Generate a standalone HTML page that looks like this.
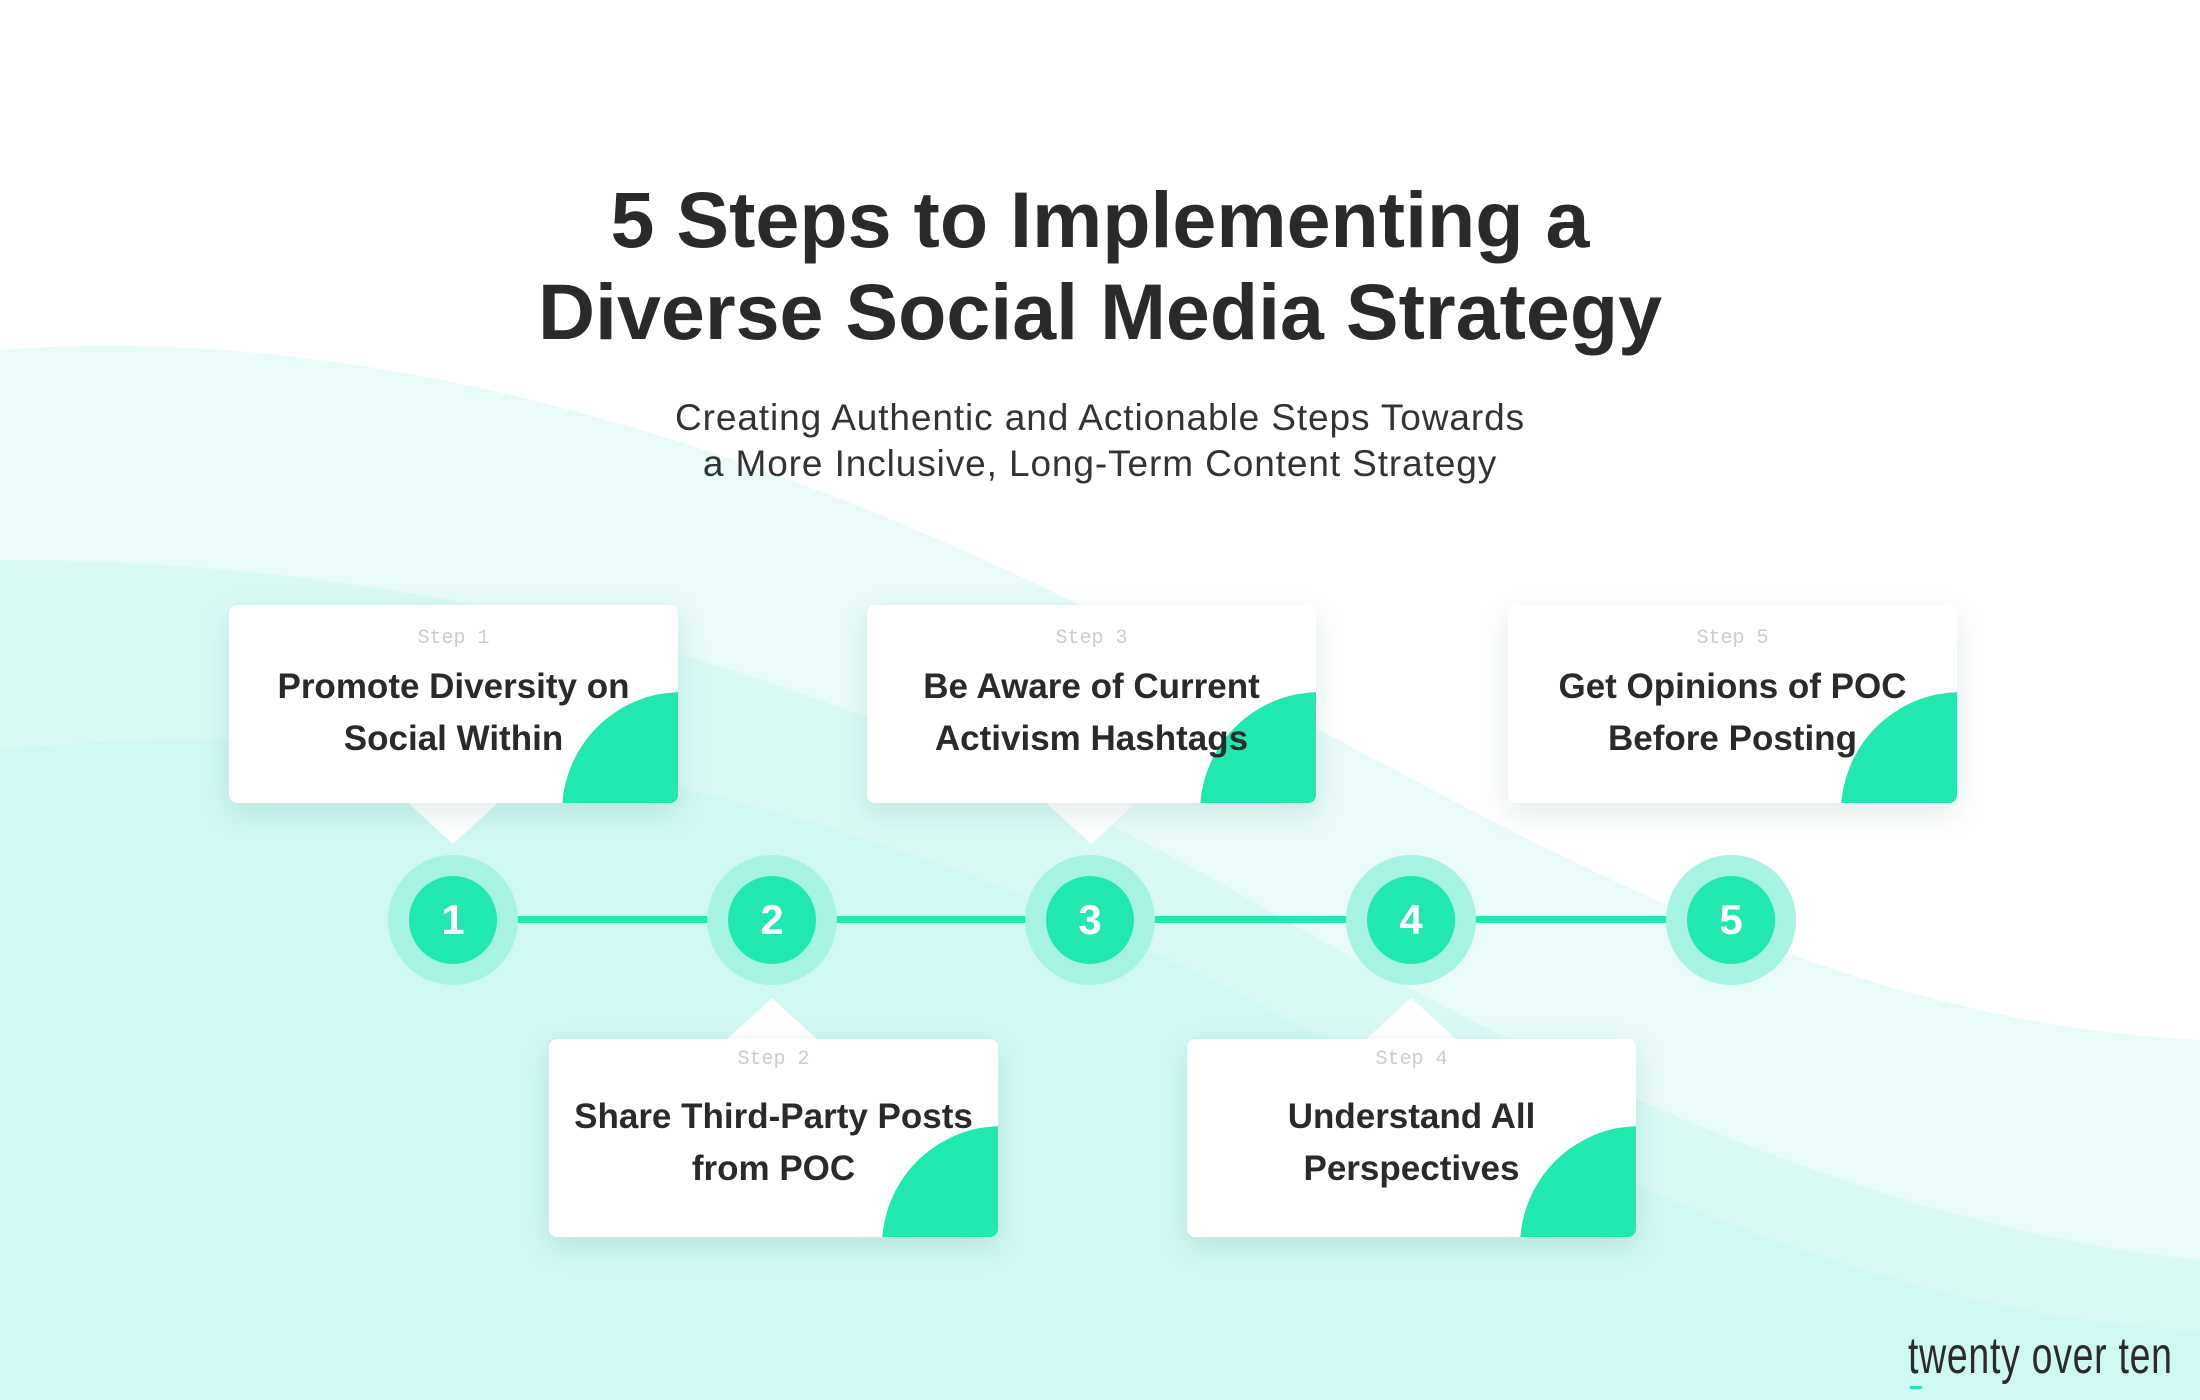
<!DOCTYPE html>
<html><head><meta charset="utf-8"><style>
body{margin:0;width:2200px;height:1400px;position:relative;overflow:hidden;background:#fff;font-family:"Liberation Sans",sans-serif;color:#2b2b2b}
.abs{position:absolute}
h1{position:absolute;left:0;width:2200px;top:174px;margin:0;text-align:center;font-size:79px;line-height:92px;font-weight:bold;color:#2a2a2a}
.sub{position:absolute;left:0;width:2200px;top:395px;text-align:center;font-size:37px;line-height:46px;color:#333;font-weight:300;letter-spacing:0.9px}
.card{position:absolute;width:449px;height:198px;background:#fff;border-radius:8px;box-shadow:0 10px 30px rgba(0,90,80,.12);overflow:hidden}
.card .q{position:absolute;width:240px;height:240px;border-radius:50%;background:#20e8b0;right:-124px;bottom:-129px}
.card .st{position:absolute;top:22px;width:100%;text-align:center;font-family:"Liberation Mono",monospace;font-size:20px;color:#ccc}
.card .t{position:absolute;top:56px;width:100%;text-align:center;font-size:35px;line-height:52px;font-weight:bold;color:#2a2a2a}
.tri{position:absolute;width:0;height:0;border-left:46px solid transparent;border-right:46px solid transparent}
.o{position:absolute;width:130px;height:130px;border-radius:50%;background:#a6f3e3}
.i{position:absolute;width:88px;height:88px;border-radius:50%;background:#20e8b0;color:#fff;font-weight:bold;font-size:42px;line-height:88px;text-align:center}
</style></head><body>
<svg class="abs" style="left:0;top:0" width="2200" height="1400">
<path d="M0 350 C400 320 800 460 1150 640 C1500 820 1800 1020 2200 1040 L2200 1400 L0 1400Z" fill="#e8fbf9"/>
<path d="M0 560 C500 560 900 700 1250 900 C1600 1100 1900 1230 2200 1260 L2200 1400 L0 1400Z" fill="#d9f9f5"/>
<path d="M0 750 C500 700 900 820 1250 1000 C1600 1180 1900 1320 2200 1330 L2200 1400 L0 1400Z" fill="#cdf7f1" opacity=".8"/>
<rect x="453" y="916" width="1278" height="7" fill="#20e8b0"/>
</svg>
<h1>5 Steps to Implementing a<br>Diverse Social Media Strategy</h1>
<div class="sub">Creating Authentic and Actionable Steps Towards<br>a More Inclusive, Long-Term Content Strategy</div>

<div class="tri" style="left:407px;top:802px;border-top:42px solid #fff"></div>
<div class="tri" style="left:1045px;top:802px;border-top:42px solid #fff"></div>
<div class="tri" style="left:1685px;top:802px;border-top:42px solid #fff"></div>
<div class="tri" style="left:726px;top:998px;border-bottom:42px solid #fff"></div>
<div class="tri" style="left:1365px;top:998px;border-bottom:42px solid #fff"></div>

<div class="card" style="left:229px;top:605px"><div class="q"></div><div class="st">Step 1</div><div class="t">Promote Diversity on<br>Social Within</div></div>
<div class="card" style="left:867px;top:605px"><div class="q"></div><div class="st">Step 3</div><div class="t">Be Aware of Current<br>Activism Hashtags</div></div>
<div class="card" style="left:1508px;top:605px"><div class="q"></div><div class="st">Step 5</div><div class="t">Get Opinions of POC<br>Before Posting</div></div>
<div class="card" style="left:549px;top:1039px"><div class="q"></div><div class="st" style="top:9px">Step 2</div><div class="t" style="top:52px">Share Third-Party Posts<br>from POC</div></div>
<div class="card" style="left:1187px;top:1039px"><div class="q"></div><div class="st" style="top:9px">Step 4</div><div class="t" style="top:52px">Understand All<br>Perspectives</div></div>

<div class="o" style="left:388px;top:855px"></div><div class="i" style="left:409px;top:876px">1</div>
<div class="o" style="left:707px;top:855px"></div><div class="i" style="left:728px;top:876px">2</div>
<div class="o" style="left:1025px;top:855px"></div><div class="i" style="left:1046px;top:876px">3</div>
<div class="o" style="left:1346px;top:855px"></div><div class="i" style="left:1367px;top:876px">4</div>
<div class="o" style="left:1666px;top:855px"></div><div class="i" style="left:1687px;top:876px">5</div>

<div class="abs" style="left:1908px;top:1326px;font-size:52px;color:#2b2b2b;transform:scaleX(.72);transform-origin:left top;white-space:nowrap;letter-spacing:1px">twenty over ten</div>
<div class="abs" style="left:1910px;top:1386px;width:12px;height:3px;background:#20e8b0"></div>
</body></html>
